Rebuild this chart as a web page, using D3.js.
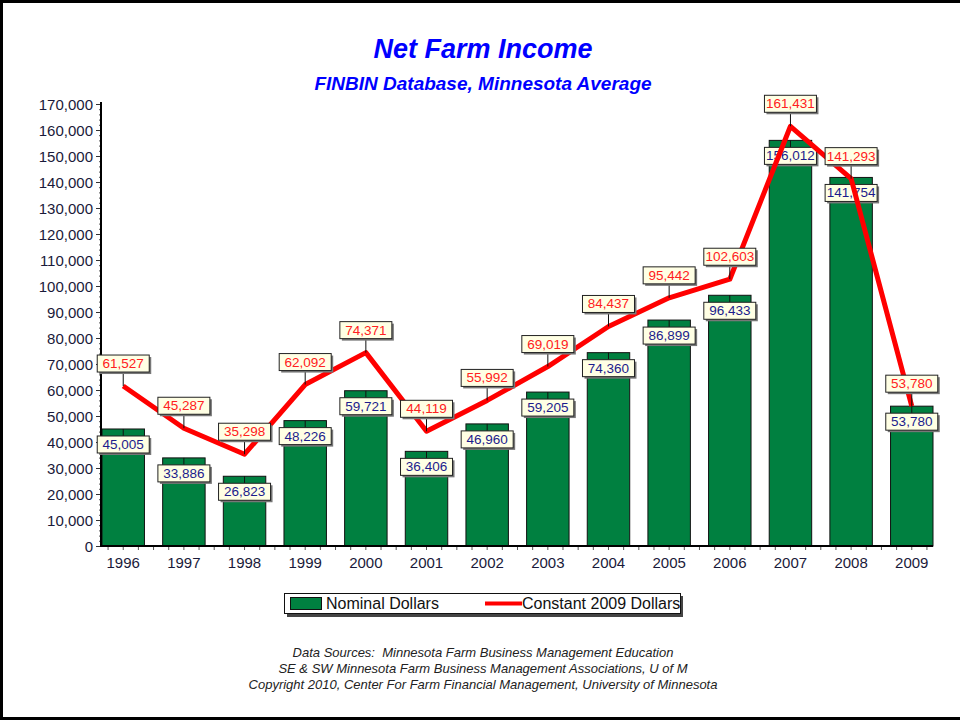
<!DOCTYPE html>
<html>
<head>
<meta charset="utf-8">
<script src="https://d3js.org/d3.v7.min.js"></script>
<style>
  body { margin: 0; background: #fff; }
  text { font-family: "Liberation Sans", Arial, sans-serif; }
</style>
</head>
<body>
<div id="chart"></div>
<script>
// data
var years = ["1996","1997","1998","1999","2000","2001","2002","2003","2004","2005","2006","2007","2008","2009"];
var nominal = [45005, 33886, 26823, 48226, 59721, 36406, 46960, 59205, 74360, 86899, 96433, 156012, 141754, 53780];
var constant2009 = [61527, 45287, 35298, 62092, 74371, 44119, 55992, 69019, 84437, 95442, 102603, 161431, 141293, 53780];
var yTicks = d3.range(0, 170001, 10000);
var footnotes = [
  "Data Sources:  Minnesota Farm Business Management Education",
  "SE & SW Minnesota Farm Business Management Associations, U of M",
  "Copyright 2010, Center For Farm Financial Management, University of Minnesota"
];

var W = 960, H = 721;
var svg = d3.select("#chart").append("svg").attr("width", W).attr("height", H);

// outer frame
svg.append("rect").attr("x", 1.5).attr("y", 1.5).attr("width", 1000).attr("height", 717)
  .attr("fill", "#fff").attr("stroke", "#000").attr("stroke-width", 3);

// titles
svg.append("text").attr("x", 483).attr("y", 58).attr("text-anchor", "middle")
  .style("font-size", "27px").style("font-weight", "bold").style("font-style", "italic")
  .attr("fill", "#0000ff").text("Net Farm Income");
svg.append("text").attr("x", 483).attr("y", 90).attr("text-anchor", "middle")
  .style("font-size", "19px").style("font-weight", "bold").style("font-style", "italic")
  .attr("fill", "#0000ff").text("FINBIN Database, Minnesota Average");

// scales
var x = d3.scaleBand().domain(years).range([102, 933]).paddingInner(0.3).paddingOuter(0);
var y = d3.scaleLinear().domain([0, 170000]).range([546, 104]);
var cx = function(i) { return x(years[i]) + x.bandwidth() / 2; };
var fmt = d3.format(",");

// y axis
var gy = svg.append("g").attr("transform", "translate(101,0)");
gy.call(d3.axisLeft(y).tickValues(d3.range(0, 170001, 2000)).tickSize(2).tickFormat(""))
  .call(function(g) { g.select(".domain").remove(); g.selectAll("line").attr("stroke", "#555"); });
var gy2 = svg.append("g").attr("transform", "translate(101,0)");
gy2.call(d3.axisLeft(y).tickValues(yTicks).tickSize(5).tickPadding(3).tickFormat(fmt))
  .call(function(g) {
    g.select(".domain").remove();
    g.selectAll("line").attr("stroke", "#333");
    g.selectAll("text").attr("fill", "#1a1a3a").style("font-size", "15px").attr("dy", "0.35em");
  });

// x axis minor ticks (quarter steps)
var step = x.step();
var xt = [];
years.forEach(function(d, i) { [-2, -1, 0, 1].forEach(function(k) { xt.push(cx(i) + k * step / 4); }); });
svg.append("g").selectAll("line").data(xt.filter(function(v) { return v > 102 && v < 933; }))
  .enter().append("line")
  .attr("x1", function(d) { return d; }).attr("x2", function(d) { return d; })
  .attr("y1", 546).attr("y2", 550).attr("stroke", "#555");
svg.append("g").selectAll("text").data(years).enter().append("text")
  .attr("x", function(d, i) { return cx(i); }).attr("y", 568).attr("text-anchor", "middle")
  .style("font-size", "15px").attr("fill", "#1a1a3a").text(function(d) { return d; });

// bars
svg.append("g").selectAll("rect").data(nominal).enter().append("rect")
  .attr("x", function(d, i) { return x(years[i]); })
  .attr("y", function(d) { return y(d); })
  .attr("width", x.bandwidth())
  .attr("height", function(d) { return y(0) - y(d); })
  .attr("fill", "#008040").attr("stroke", "#111").attr("stroke-width", 1);

// axis lines
svg.append("line").attr("x1", 101).attr("x2", 101).attr("y1", 102).attr("y2", 547)
  .attr("stroke", "#000").attr("stroke-width", 2);
svg.append("line").attr("x1", 100).attr("x2", 933).attr("y1", 546).attr("y2", 546)
  .attr("stroke", "#000").attr("stroke-width", 2);

// value label helper
function label(g, xc, top, txt, color) {
  var w = 52, h = 17;
  g.append("rect").attr("x", xc - w / 2 + 2).attr("y", top + 2).attr("width", w).attr("height", h)
    .attr("fill", "#777");
  g.append("rect").attr("x", xc - w / 2).attr("y", top).attr("width", w).attr("height", h)
    .attr("fill", "#ffffe4").attr("stroke", "#222").attr("stroke-width", 1);
  g.append("text").attr("x", xc).attr("y", top + 13).attr("text-anchor", "middle")
    .style("font-size", "13.5px").attr("fill", color).text(txt);
}

// nominal labels (below bar top)
var gn = svg.append("g");
nominal.forEach(function(d, i) {
  var top = y(d) + 7;
  gn.append("line").attr("x1", cx(i)).attr("x2", cx(i)).attr("y1", y(d)).attr("y2", top)
    .attr("stroke", "#111");
  label(gn, cx(i), top, fmt(d), "#1c1c8c");
});

// constant dollar line
var line = d3.line().x(function(d, i) { return cx(i); }).y(function(d) { return y(d); });
svg.append("path").datum(constant2009).attr("d", line)
  .attr("fill", "none").attr("stroke", "#ff0000").attr("stroke-width", 5)
  .attr("stroke-linejoin", "round");

// constant labels (above point)
var gc = svg.append("g");
constant2009.forEach(function(d, i) {
  var bottom = y(d) - 14;
  gc.append("line").attr("x1", cx(i)).attr("x2", cx(i)).attr("y1", bottom).attr("y2", y(d))
    .attr("stroke", "#111");
  label(gc, cx(i), bottom - 17, fmt(d), "#ff2020");
});

// legend
var lg = svg.append("g");
lg.append("rect").attr("x", 287).attr("y", 596).attr("width", 396).attr("height", 21).attr("fill", "#444");
lg.append("rect").attr("x", 284.5).attr("y", 593.5).attr("width", 396).attr("height", 20)
  .attr("fill", "#fff").attr("stroke", "#111");
lg.append("rect").attr("x", 290.5).attr("y", 597.5).attr("width", 31).attr("height", 12)
  .attr("fill", "#008040").attr("stroke", "#111");
lg.append("text").attr("x", 326).attr("y", 609).style("font-size", "16px").attr("fill", "#111")
  .text("Nominal Dollars");
lg.append("line").attr("x1", 485).attr("x2", 522).attr("y1", 603.5).attr("y2", 603.5)
  .attr("stroke", "#ff0000").attr("stroke-width", 4);
lg.append("text").attr("x", 522).attr("y", 609).style("font-size", "16px").attr("fill", "#111")
  .text("Constant 2009 Dollars");

// footnotes
svg.append("g").selectAll("text").data(footnotes).enter().append("text")
  .attr("x", 483).attr("y", function(d, i) { return 657 + i * 16; }).attr("text-anchor", "middle")
  .style("font-size", "13px").style("font-style", "italic").style("white-space", "pre")
  .attr("fill", "#222")
  .text(function(d) { return d; });
</script>
</body>
</html>
